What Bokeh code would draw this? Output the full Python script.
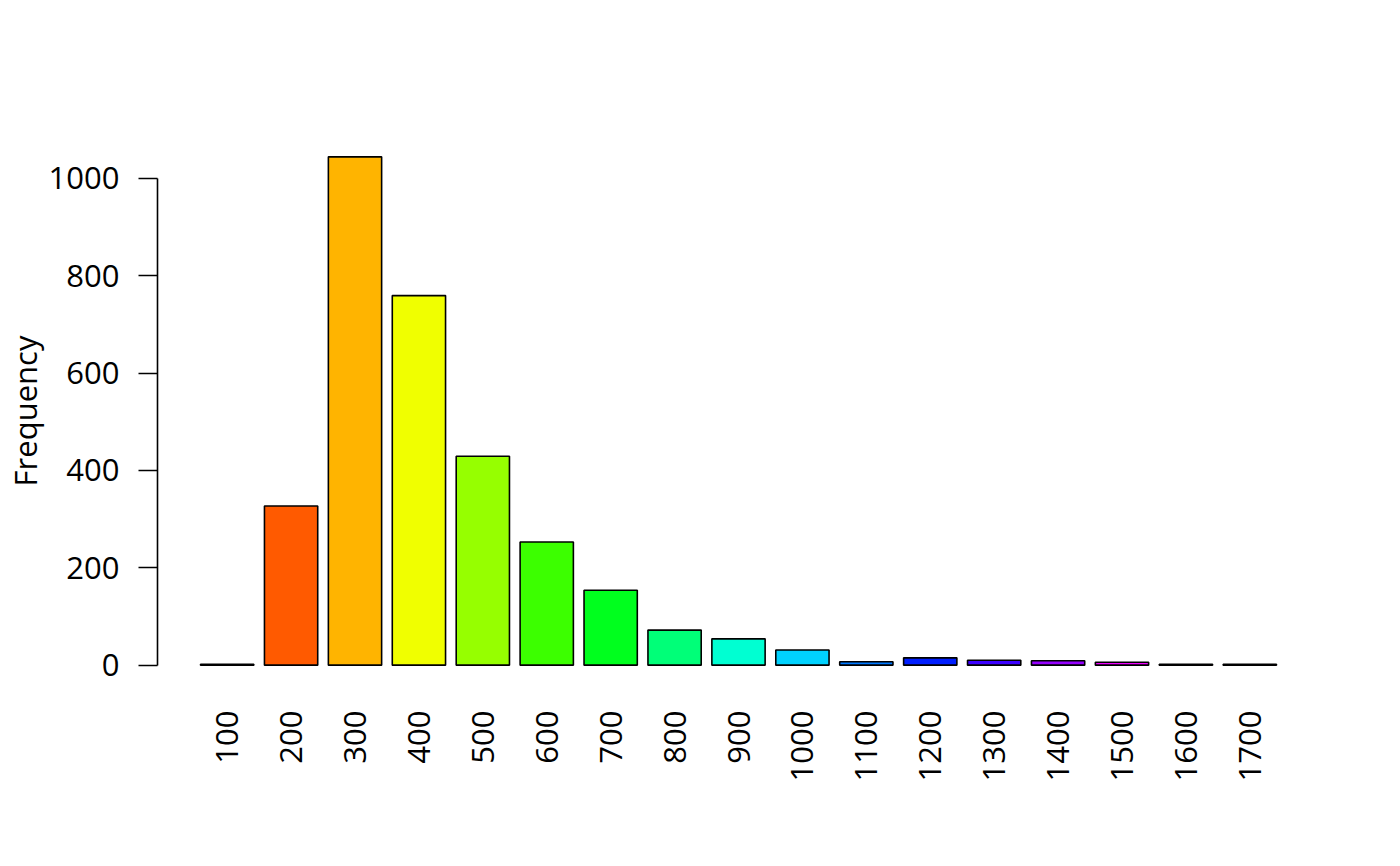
import math
from bokeh.plotting import figure
from bokeh.models import FixedTicker, ColumnDataSource, Range1d
from bokeh.embed import file_html
from bokeh.resources import INLINE

labels = ["100", "200", "300", "400", "500", "600", "700", "800", "900",
          "1000", "1100", "1200", "1300", "1400", "1500", "1600", "1700"]
counts = [2, 327, 1044, 759, 429, 253, 154, 72, 54, 31, 7, 15, 10, 9, 6, 2, 2]
colors = ["#FF0000", "#FF5A00", "#FFB400", "#F0FF00", "#96FF00", "#3CFF00",
          "#00FF1E", "#00FF78", "#00FFD2", "#00D2FF", "#0078FF", "#001EFF",
          "#3C00FF", "#9600FF", "#F000FF", "#FF00B4", "#FF005A"]

# R barplot geometry: width 1, space 0.2
centers = [0.7 + 1.2 * i for i in range(len(labels))]
xmin, xmax = 0.2, 1.2 * len(labels)
xpad = 0.04 * (xmax - xmin)
ymax = max(counts)
ypad = 0.04 * ymax

FONT = "Open Sans"

p = figure(width=1384, height=850, output_backend="svg", toolbar_location=None,
           x_range=Range1d(xmin - xpad, xmax + xpad),
           y_range=Range1d(-ypad, ymax + ypad),
           min_border_left=147, min_border_right=65,
           min_border_top=136, min_border_bottom=165)

src = ColumnDataSource(dict(x=centers, top=counts, color=colors))
p.vbar(x="x", top="top", bottom=0, width=1.0, source=src,
       fill_color="color", line_color="black", line_width=1.6)

p.xgrid.visible = False
p.ygrid.visible = False
p.outline_line_color = None
p.background_fill_color = "white"
p.border_fill_color = "white"

ya = p.yaxis[0]
ya.ticker = FixedTicker(ticks=[0, 200, 400, 600, 800, 1000])
ya.bounds = (0, 1000)
ya.minor_tick_line_color = None
ya.major_tick_in = 0
ya.major_tick_out = 19
ya.major_tick_line_width = 1.6
ya.axis_line_width = 1.6
ya.major_label_standoff = 19
ya.major_label_text_font = FONT
ya.major_label_text_font_size = "31px"
ya.major_label_text_color = "black"
ya.axis_label = "Frequency"
ya.axis_label_text_font = FONT
ya.axis_label_text_font_size = "31px"
ya.axis_label_text_font_style = "normal"
ya.axis_label_text_color = "black"
ya.axis_label_standoff = 0

xa = p.xaxis[0]
xa.ticker = FixedTicker(ticks=centers)
xa.major_label_overrides = {c: l for c, l in zip(centers, labels)}
xa.axis_line_color = None
xa.major_tick_line_color = None
xa.minor_tick_line_color = None
xa.major_tick_in = 0
xa.major_tick_out = 0
xa.major_label_orientation = math.pi / 2
xa.major_label_standoff = 25
xa.major_label_text_font = FONT
xa.major_label_text_font_size = "31px"
xa.major_label_text_color = "black"

open("out.html", "w").write(file_html(p, INLINE))
